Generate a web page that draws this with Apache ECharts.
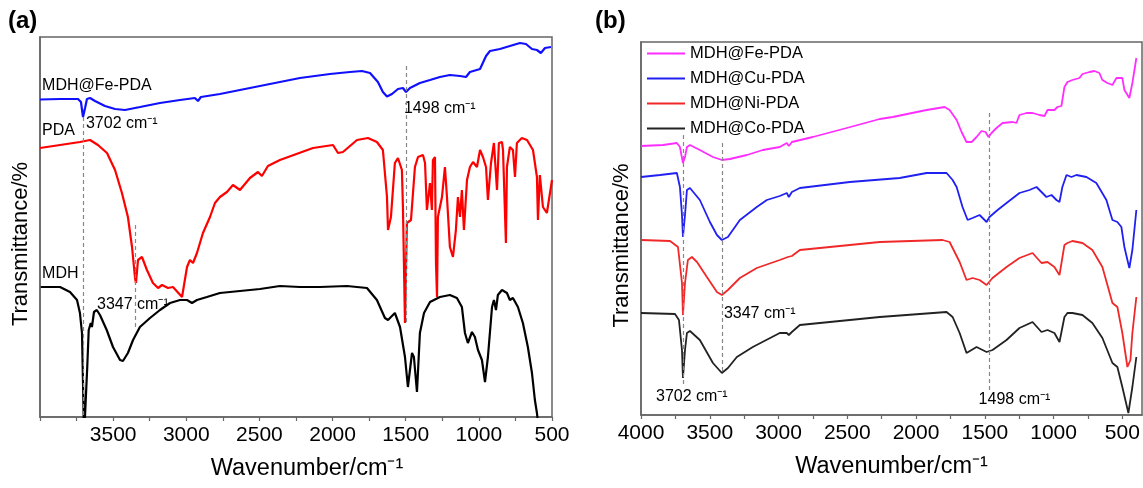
<!DOCTYPE html>
<html>
<head>
<meta charset="utf-8">
<script src="https://cdn.jsdelivr.net/npm/echarts@6/dist/echarts.min.js"></script>
<style>html,body{margin:0;padding:0;background:#fff}#c{width:1143px;height:488px}</style>
</head>
<body>
<div id="c"></div>
<script>
// ---------- Panel (a) data: [wavenumber cm-1, transmittance (arb. units)] ----------
const a_MDH = [[3995,130],[3863,130],[3795,125],[3747,117],[3727,104],[3713,84],[3706,34],[3699,-20],[3686,-20],[3677,50],[3667,87],[3653,94],[3645,90],[3631,105],[3612,107],[3590,102],[3544,87],[3501,70],[3453,57],[3433,56],[3399,64],[3364,77],[3317,90],[3248,99],[3180,107],[3111,114],[3043,117],[2995,117],[2961,114],[2927,117],[2859,120],[2770,124],[2633,126],[2496,128],[2360,131],[2223,130],[2086,130],[1902,131],[1765,129],[1697,117],[1642,99],[1621,97],[1574,104],[1539,90],[1505,60],[1485,30],[1457,64],[1444,60],[1423,25],[1403,84],[1375,104],[1334,115],[1266,120],[1198,122],[1150,119],[1116,110],[1095,84],[1075,74],[1047,85],[1027,80],[1006,67],[979,57],[958,35],[938,60],[910,110],[897,117],[883,107],[870,122],[842,127],[808,124],[788,117],[767,119],[733,110],[699,94],[665,70],[637,44],[617,17],[603,4],[596,-5]];
const a_PDA = [[4000,269],[3863,272],[3727,275],[3658,277],[3604,272],[3542,264],[3487,247],[3440,224],[3399,200],[3371,170],[3351,140],[3344,134],[3330,157],[3303,160],[3269,147],[3228,134],[3193,129],[3166,132],[3125,129],[3091,130],[3029,120],[2995,150],[2975,157],[2954,154],[2927,164],[2886,184],[2838,200],[2804,214],[2770,220],[2722,225],[2681,232],[2633,227],[2565,239],[2510,245],[2483,241],[2442,251],[2360,257],[2134,269],[1997,272],[1963,264],[1929,265],[1833,277],[1758,279],[1697,275],[1656,267],[1628,220],[1621,187],[1601,200],[1574,254],[1553,259],[1526,247],[1519,210],[1505,94],[1492,194],[1464,197],[1437,250],[1416,260],[1382,262],[1368,254],[1355,207],[1334,234],[1321,207],[1314,257],[1300,260],[1293,154],[1286,120],[1280,200],[1252,220],[1232,250],[1218,220],[1198,170],[1177,160],[1157,187],[1143,220],[1129,200],[1116,227],[1102,187],[1081,237],[1061,250],[1040,255],[1013,250],[992,267],[972,260],[951,250],[938,217],[917,254],[897,274],[876,227],[863,274],[842,275],[835,267],[815,174],[808,250],[788,270],[767,267],[753,240],[740,274],[706,279],[671,277],[630,267],[603,240],[596,197],[583,242],[562,210],[535,204],[500,237]];
const a_FePDA = [[4000,317.5],[3863,318],[3740,318],[3720,315],[3706,300],[3692,309],[3679,318],[3658,319],[3624,316],[3556,311],[3487,308],[3419,307],[3316,310],[3180,314],[3043,317],[2941,319],[2920,316],[2900,320],[2770,323],[2565,329],[2360,335],[2223,339],[2018,343],[1881,345],[1799,346],[1744,344],[1690,335],[1656,325],[1628,320.5],[1594,323],[1553,328],[1519,329],[1498,325],[1471,329],[1403,334],[1334,337],[1266,340],[1198,342],[1129,341],[1088,340],[1061,345],[992,348],[951,361],[924,366],[856,368],[788,371],[719,374],[678,373],[637,368],[603,367],[576,364],[548,369],[507,370]];

// ---------- Panel (b) data ----------
const b_Fe = [[4000,269],[3840,270],[3739,272],[3717,268],[3695,252],[3680,258],[3666,268],[3644,270],[3572,265],[3477,258],[3412,255],[3354,256],[3230,260],[3114,265],[2991,268],[2940,272],[2925,269],[2903,273],[2751,278],[2504,287],[2264,296],[2170,298],[1923,305],[1792,308],[1756,305],[1705,295],[1669,283],[1633,273],[1596,273],[1560,278],[1524,284],[1495,283],[1473,278],[1451,282],[1415,287],[1371,292],[1299,293],[1270,292],[1248,300],[1197,302],[1153,302],[1102,300],[1066,299],[1044,305],[994,305],[972,308],[943,309],[921,328],[899,333],[863,335],[812,337],[790,341],[739,343],[703,344],[667,342],[645,335],[609,332],[572,330],[543,337],[500,337],[485,325],[449,317],[427,332],[398,357]];
const b_Cu = [[4000,238],[3862,240],[3739,242],[3717,228],[3702,200],[3695,178],[3680,200],[3666,225],[3644,227],[3572,215],[3499,193],[3448,180],[3412,175],[3368,178],[3281,195],[3158,208],[3085,215],[2991,219],[2940,222],[2925,218],[2903,223],[2845,227],[2482,233],[2119,237],[1923,242],[1778,242],[1734,235],[1705,228],[1662,208],[1625,195],[1589,197],[1538,200],[1487,193],[1466,198],[1407,205],[1342,212],[1248,222],[1175,225],[1124,228],[1088,223],[1052,218],[1015,220],[979,215],[957,213],[936,228],[906,240],[870,238],[834,240],[761,238],[689,232],[616,215],[572,195],[536,193],[507,188],[485,168],[463,155],[449,147],[427,165],[398,205]];
const b_Ni = [[4000,175],[3789,174],[3731,168],[3702,132],[3695,100],[3680,132],[3659,155],[3630,158],[3593,153],[3521,138],[3448,123],[3412,120],[3368,125],[3281,137],[3158,147],[2991,155],[2932,158],[2918,156],[2903,159],[2845,165],[2627,168],[2264,173],[1807,175],[1756,173],[1683,153],[1633,135],[1589,137],[1538,135],[1487,130],[1444,137],[1342,148],[1248,157],[1153,162],[1088,152],[1044,153],[994,148],[957,140],[921,170],[899,172],[863,174],[790,172],[718,165],[645,148],[572,112],[536,108],[500,82],[463,48],[441,55],[427,82],[398,118]];
const b_Co = [[4000,102],[3753,101],[3724,95],[3702,65],[3695,37],[3680,65],[3666,82],[3644,84],[3572,75],[3477,52],[3412,42],[3368,47],[3303,58],[3187,68],[2991,82],[2940,82],[2925,80],[2903,83],[2845,90],[2627,93],[2264,98],[1778,103],[1734,98],[1683,82],[1633,62],[1560,68],[1487,63],[1444,65],[1342,75],[1248,87],[1153,93],[1088,83],[1044,85],[994,82],[957,73],[921,98],[899,102],[863,102],[790,100],[718,92],[645,77],[572,52],[536,48],[500,28],[456,2],[427,28],[398,58]];

// tick labels
const aTickLabels = [3500,3000,2500,2000,1500,1000,500];
const bTickLabels = [4000,3500,3000,2500,2000,1500,1000,500];
const bTickValues = [4000,3750,3500,3250,3000,2750,2500,2250,2000,1750,1500,1250,1000,750,500];

// reference (dashed) lines: [wavenumber, from, to]
const aRefLines = [[3702,300,0],[3347,192,90],[1498,351,92]];
const bRefLines = [[3692,280,28],[3412,272,42],[1471,302,22]];

// annotations: [wavenumber, value, text]
const aNotes = [[3986,331,'MDH@Fe-PDA'],[3686,293,'3702 cm⁻¹'],[3986,286,'PDA'],[3986,143,'MDH'],[3610,112,'3347 cm⁻¹'],[1512,308,'1498 cm⁻¹']];
const bNotes = [[3891,18,'3702 cm⁻¹'],[3397,101,'3347 cm⁻¹'],[1545,15,'1498 cm⁻¹']];

const FONT = "'Liberation Sans', Arial, Helvetica, sans-serif";
const chart = echarts.init(document.getElementById('c'), null, {renderer:'canvas'});

function refLineData(list){
  return list.map(r => [{coord:[r[0], r[1]]},{coord:[r[0], r[2]]}]);
}
const xName = 'Wavenumber/cm⁻¹';

function xAxisCommon(grid){
  return {
    gridIndex: grid, type:'value', inverse:true,
    name: xName, nameLocation:'middle', nameGap: 40,
    nameTextStyle:{fontSize:23.5, color:'#000', fontFamily:FONT},
    axisLine:{show:true, onZero:false, lineStyle:{color:'#666', width:1.5}},
    axisTick:{show:true, inside:false, length:4, lineStyle:{color:'#666', width:1.2}},
    splitLine:{show:false},
    axisLabel:{fontSize:21, color:'#000', fontFamily:FONT, margin:8, showMinLabel:true, showMaxLabel:true}
  };
}
function yAxisCommon(grid, max){
  return {
    gridIndex: grid, type:'value', min:0, max:max,
    name:'Transmittance/%', nameLocation:'middle', nameGap: 8,
    nameTextStyle:{fontSize:22, color:'#000', fontFamily:FONT, padding:[0,34,0,0]},
    axisLine:{show:true, lineStyle:{color:'#666', width:1.5}},
    axisTick:{show:false}, axisLabel:{show:false}, splitLine:{show:false}
  };
}

const xa = xAxisCommon(0);
xa.min = 500; xa.max = 4000; xa.interval = 250;
xa.axisLabel.formatter = v => (v % 500 === 0 && v !== 4000) ? String(v) : '';
xa.axisLabel.interval = 0;
xa.nameTextStyle.padding = [0,0,0,22];
const xb = xAxisCommon(1);
xb.min = 357; xb.max = 4000;
xb.axisTick.customValues = bTickValues;
xb.axisLabel.customValues = bTickLabels;
xb.axisLabel.formatter = v => String(Math.round(v));
xb.nameGap = 40;

function lineSeries(name, data, color, width, xi, extra){
  return Object.assign({
    name, type:'line', data, xAxisIndex:xi, yAxisIndex:xi,
    showSymbol:false, symbol:'none', smooth:false, clip:true,
    lineStyle:{color, width}, itemStyle:{color}, animation:false
  }, extra||{});
}
function markLineOf(list){
  return {silent:true, symbol:['none','none'], label:{show:false},
    lineStyle:{color:'#888', type:[4,3], width:1.2}, data: refLineData(list), animation:false};
}

const option = {
  animation:false,
  backgroundColor:'#fff',
  textStyle:{fontFamily:FONT},
  grid:[
    {left:40, right:591, top:37, bottom:71, show:true, borderColor:'#666', borderWidth:1.5},
    {left:641, right:1, top:42, bottom:73, show:true, borderColor:'#666', borderWidth:1.5}
  ],
  xAxis:[xa, xb],
  yAxis:[yAxisCommon(0,380), yAxisCommon(1,373)],
  legend:{
    data:['MDH@Fe-PDA','MDH@Cu-PDA','MDH@Ni-PDA','MDH@Co-PDA'],
    orient:'vertical', left:642, top:39, itemWidth:38, itemHeight:14, itemGap:6,
    textStyle:{fontSize:16.5, color:'#000', fontFamily:FONT, lineHeight:19},
    icon:'path://M0,0 L40,0 L40,2 L0,2 Z'
  },
  series:[
    lineSeries('MDH', a_MDH, '#000000', 2.2, 0),
    lineSeries('PDA', a_PDA, '#ff0000', 2.2, 0),
    lineSeries('Fe-PDA (a)', a_FePDA, '#1010ff', 2.2, 0, {markLine: markLineOf(aRefLines)}),
    lineSeries('MDH@Co-PDA', b_Co, '#222222', 1.8, 1),
    lineSeries('MDH@Ni-PDA', b_Ni, '#f02828', 1.8, 1),
    lineSeries('MDH@Cu-PDA', b_Cu, '#2020f0', 1.8, 1),
    lineSeries('MDH@Fe-PDA', b_Fe, '#ff2dff', 1.8, 1, {markLine: markLineOf(bRefLines)})
  ]
};
chart.setOption(option);

function notesGraphic(list, grid){
  return list.map(n => {
    const p = chart.convertToPixel({gridIndex:grid}, [n[0], n[1]]);
    return {type:'text', x:p[0], y:p[1], silent:true,
      style:{text:n[2], fontSize:16, fill:'#000', fontFamily:FONT, align:'left', verticalAlign:'middle'}};
  });
}
chart.setOption({graphic:[
  {type:'text', left:8, top:9, style:{text:'(a)', fontSize:24, fontWeight:'bold', fill:'#000', fontFamily:FONT}},
  {type:'text', left:595, top:9, style:{text:'(b)', fontSize:24, fontWeight:'bold', fill:'#000', fontFamily:FONT}}
].concat(notesGraphic(aNotes,0)).concat(notesGraphic(bNotes,1))});
</script>
</body>
</html>
